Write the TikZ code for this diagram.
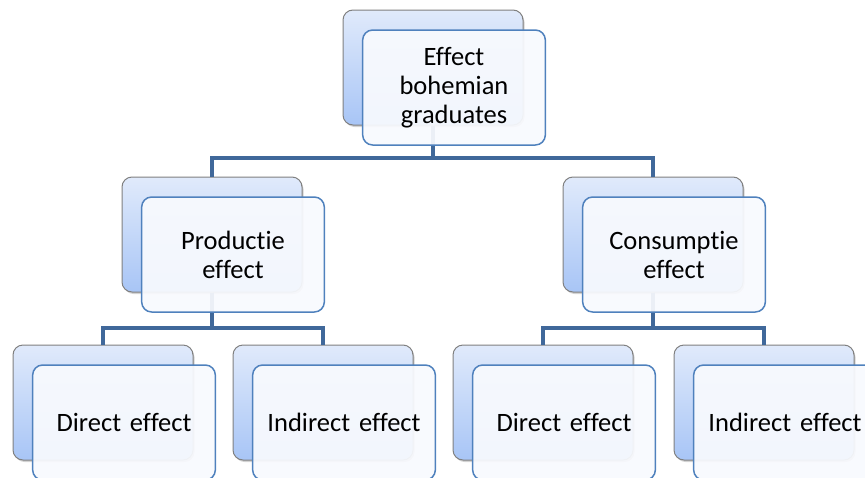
\documentclass[tikz,border=0pt]{standalone}
\usepackage{fontspec}
\setmainfont{Carlito}[Ligatures=NoCommon,WordSpace=0.8]
\usetikzlibrary{positioning,shadows}
\definecolor{backline}{RGB}{128,128,128}
\definecolor{backtop}{RGB}{224,234,251}
\definecolor{backbot}{RGB}{168,197,246}
\definecolor{frontline}{RGB}{79,129,189}
\definecolor{frontfill}{RGB}{248,250,254}
\definecolor{connline}{RGB}{64,104,154}

\begin{document}
\begin{tikzpicture}[x=1pt,y=-1pt,font=\fontsize{26.5}{29}\selectfont]
  \tikzset{back/.style={draw=backline,line width=1pt,rounded corners=10pt,
      minimum width=180pt,minimum height=115pt,top color=backtop,bottom color=backbot,
      drop shadow={shadow xshift=1.5pt,shadow yshift=-2pt,opacity=0.35}},
    front/.style={draw=frontline,line width=1.5pt,rounded corners=10pt,
      minimum width=180pt,minimum height=115pt,fill=frontfill,fill opacity=0.93,
      text opacity=1,align=center,text width=176pt},
    conn/.style={draw=connline,line width=4pt}}
  \useasboundingbox (0,0) rectangle (865,477);
  % back boxes
  \node[back] (topb) at (433,67.5) {};
  \node[back] (prodb) at (212,234.5) {};
  \node[back] (consb) at (653,234.5) {};
  \node[back] (pdirb) at (103,402.5) {};
  \node[back] (pindb) at (323,402.5) {};
  \node[back] (cdirb) at (543,402.5) {};
  \node[back] (cindb) at (764,402.5) {};
  % connectors
  \draw[conn] (topb.south) -- ++(0,32) -| (prodb.north);
  \draw[conn] (topb.south) -- ++(0,32) -| (consb.north);
  \draw[conn] (prodb.south) -- ++(0,35) -| (pdirb.north);
  \draw[conn] (prodb.south) -- ++(0,35) -| (pindb.north);
  \draw[conn] (consb.south) -- ++(0,35) -| (cdirb.north);
  \draw[conn] (consb.south) -- ++(0,35) -| (cindb.north);
  % front boxes
  \node[front] (top) at ([shift={(21,20)}]topb.center) {Effect\\bohemian\\graduates};
  \node[front] (prod) at ([shift={(21,20)}]prodb.center) {Productie\\effect};
  \node[front] (cons) at ([shift={(21,20)}]consb.center) {Consumptie\\effect};
  \node[front] (pdir) at ([shift={(21,20)}]pdirb.center) {Direct effect};
  \node[front] (pind) at ([shift={(21,20)}]pindb.center) {Indirect effect};
  \node[front] (cdir) at ([shift={(21,20)}]cdirb.center) {Direct effect};
  \node[front] (cind) at ([shift={(21,20)}]cindb.center) {Indirect effect};
\end{tikzpicture}
\end{document}
